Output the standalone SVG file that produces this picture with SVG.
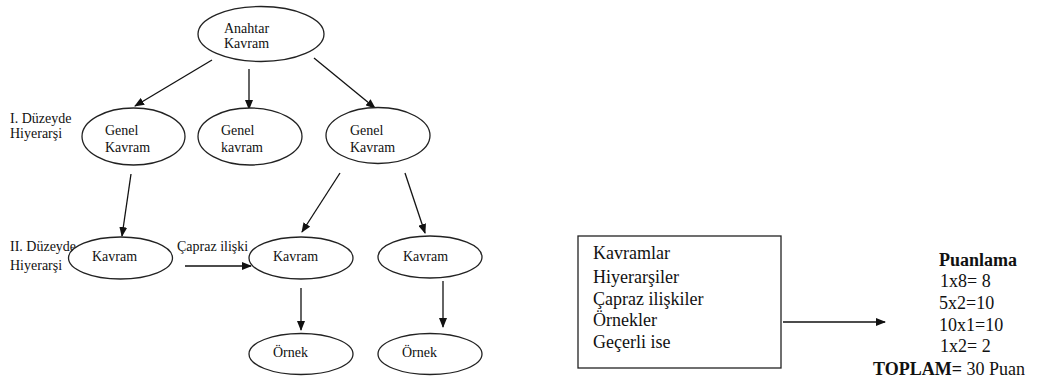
<svg xmlns="http://www.w3.org/2000/svg" width="1038" height="380" viewBox="0 0 1038 380">
<style>
.n{fill:#fff;stroke:#222;stroke-width:1.3}
.t{font-family:"Liberation Serif","Times New Roman",serif;font-size:14px;fill:#111}
.b{font-family:"Liberation Serif","Times New Roman",serif;font-size:18px;fill:#111}
.c{stroke:#111;stroke-width:1.3;fill:none;marker-end:url(#ah)}
</style>
<defs>
<marker id="ah" markerWidth="10" markerHeight="8" refX="9" refY="4" orient="auto" markerUnits="userSpaceOnUse">
<path d="M0,0 L10,4 L0,8 Z" fill="#111"/>
</marker>
</defs>
<rect width="1038" height="380" fill="#fff"/>
<g id="connectors">
<line class="c" x1="212" y1="60" x2="135" y2="106"/>
<line class="c" x1="249" y1="69" x2="249" y2="109"/>
<line class="c" x1="314" y1="58" x2="375" y2="108"/>
<line class="c" x1="131" y1="174" x2="122" y2="236"/>
<line class="c" x1="340" y1="173" x2="302" y2="232"/>
<line class="c" x1="405" y1="173" x2="425" y2="233"/>
<line class="c" x1="185" y1="266" x2="251" y2="266"/>
<line class="c" x1="301" y1="288" x2="301" y2="330"/>
<line class="c" x1="443" y1="281" x2="443" y2="327"/>
<line class="c" x1="783" y1="322" x2="885" y2="322"/>
</g>
<g id="labels">
<text class="t" x="10" y="123">I. Düzeyde</text>
<text class="t" x="10" y="138">Hiyerarşi</text>
<text class="t" x="10" y="251">II. Düzeyde</text>
<text class="t" x="10" y="270">Hiyerarşi</text>
<text class="t" x="177" y="251">Çapraz ilişki</text>
</g>
<g id="anahtar">
<ellipse class="n" cx="261" cy="34" rx="63" ry="27.5"/>
<text class="t" x="224" y="33">Anahtar</text>
<text class="t" x="224" y="48">Kavram</text>
</g>
<g id="genel1">
<ellipse class="n" cx="133.5" cy="136.5" rx="51.5" ry="28.5"/>
<text class="t" x="105" y="135">Genel</text>
<text class="t" x="105" y="152">Kavram</text>
</g>
<g id="genel2">
<ellipse class="n" cx="250" cy="136.5" rx="52" ry="28.5"/>
<text class="t" x="221" y="135">Genel</text>
<text class="t" x="221" y="152">kavram</text>
</g>
<g id="genel3">
<ellipse class="n" cx="378" cy="135.5" rx="52" ry="28"/>
<text class="t" x="350" y="135">Genel</text>
<text class="t" x="350" y="152">Kavram</text>
</g>
<g id="kavram1">
<ellipse class="n" cx="120.5" cy="258" rx="52" ry="21"/>
<text class="t" x="92" y="261">Kavram</text>
</g>
<g id="kavram2">
<ellipse class="n" cx="301" cy="258" rx="52" ry="21"/>
<text class="t" x="273" y="261">Kavram</text>
</g>
<g id="kavram3">
<ellipse class="n" cx="430" cy="257" rx="52" ry="21"/>
<text class="t" x="403" y="261">Kavram</text>
</g>
<g id="ornek1">
<ellipse class="n" cx="301" cy="354" rx="52" ry="20.5"/>
<text class="t" x="273" y="357">Örnek</text>
</g>
<g id="ornek2">
<ellipse class="n" cx="430" cy="354" rx="52" ry="20.5"/>
<text class="t" x="402" y="357">Örnek</text>
</g>
<g id="box">
<rect class="n" x="578" y="236" width="203" height="132"/>
<text class="b" x="593" y="259">Kavramlar</text>
<text class="b" x="593" y="283">Hiyerarşiler</text>
<text class="b" x="593" y="305">Çapraz ilişkiler</text>
<text class="b" x="593" y="326">Örnekler</text>
<text class="b" x="593" y="348">Geçerli ise</text>
</g>
<g id="puanlama">
<text class="b" x="939" y="266" font-weight="bold">Puanlama</text>
<text class="b" x="940" y="287">1x8= 8</text>
<text class="b" x="939" y="309">5x2=10</text>
<text class="b" x="939" y="331">10x1=10</text>
<text class="b" x="940" y="352">1x2= 2</text>
<text class="b" x="873" y="375"><tspan font-weight="bold">TOPLAM=</tspan> 30 Puan</text>
</g>
</svg>
